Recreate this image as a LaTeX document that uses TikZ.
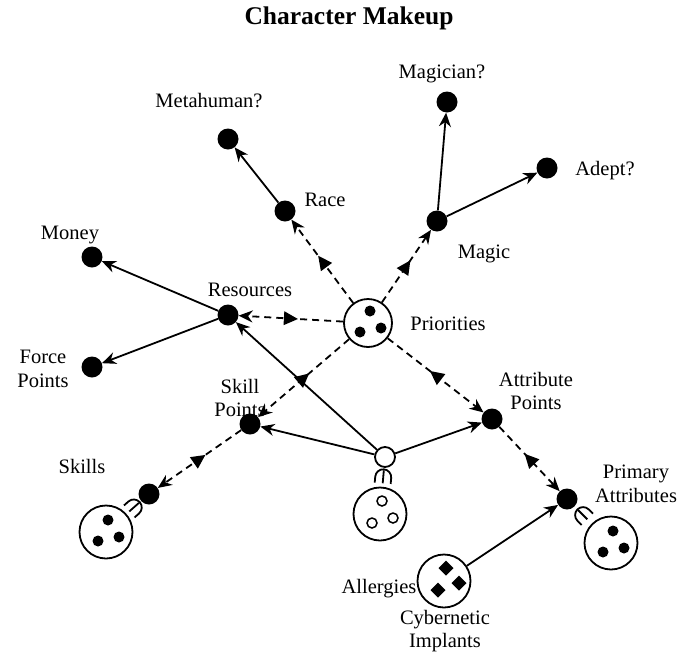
\documentclass[tikz,border=0pt]{standalone}
\usepackage{fontspec}
\setmainfont{Liberation Serif}
\usetikzlibrary{arrows.meta,decorations.markings}
\begin{document}
\begin{tikzpicture}[x=1pt,y=-1pt,
  lbl/.style={font=\fontsize{20.5}{23.5}\selectfont, align=center, inner sep=0pt},
  dot/.style={circle, fill=black, inner sep=0pt, minimum size=21pt},
  hol/.style={circle, draw=black, line width=1.8pt, fill=white, inner sep=0pt, minimum size=20pt},
  big/.style={circle, draw=black, line width=1.8pt, inner sep=0pt, minimum size=53pt},
  conn/.style={line width=1.8pt, -{Stealth[length=14pt,width=12pt]}},
  dconn/.style={conn, dash pattern=on 7pt off 5pt},
  midfwd/.style={postaction={decorate}, decoration={markings, mark=at position 0.5 with {\fill[solid] (7,0) -- (-7,7) -- (-7,-7) -- cycle;}}},
  midback/.style={postaction={decorate}, decoration={markings, mark=at position 0.5 with {\fill[solid] (-7,0) -- (7,7) -- (7,-7) -- cycle;}}},
  forkmark/.style={postaction={decorate}, decoration={markings, mark=at position 0.5 with {\draw[line width=1.8pt] (6,8) -- (0,8) arc[start angle=90, end angle=270, radius=8] -- (6,-8); \draw[line width=1.8pt] (-7,0) -- (6,0);}}}
]
\useasboundingbox (0,0) rectangle (697,654);

\node[font=\fontsize{25.5}{28}\selectfont\bfseries, inner sep=0pt] (title) at (349,18) {Character Makeup};

% nodes
\node[big, minimum size=48pt] (pri) at (368,323) {};
\node[dot] (race) at (285,211) {};
\node[dot] (meta) at (228,139) {};
\node[dot] (magic) at (437,221) {};
\node[dot] (magician) at (447,102) {};
\node[dot] (adept) at (547,168) {};
\node[dot] (res) at (228,315) {};
\node[dot] (money) at (92,257) {};
\node[dot] (force) at (92,367) {};
\node[dot] (skp) at (250,424) {};
\node[dot] (atp) at (492,419) {};
\node[dot] (skd) at (149,494) {};
\node[big] (skc) at (106,532) {};
\node[hol] (alsm) at (385,457) {};
\node[big] (alc) at (380,514) {};
\node[dot] (prd) at (567,499) {};
\node[big] (prc) at (611,543) {};
\node[big] (cyb) at (444,581) {};

% inner marks
\foreach \n in {pri,skc,prc}{
  \fill ([shift={(2,-12)}]\n.center) circle (5.5);
  \fill ([shift={(-8,9)}]\n.center) circle (5.5);
  \fill ([shift={(13,5)}]\n.center) circle (5.5);
}
\draw[line width=1.5pt] ([shift={(2,-13)}]alc.center) circle (5);
\draw[line width=1.5pt] ([shift={(-8,9)}]alc.center) circle (5);
\draw[line width=1.5pt] ([shift={(13,4)}]alc.center) circle (5);
\foreach \dx/\dy in {2/-13, -6/9, 15/2}{
  \fill ([shift={(\dx,\dy)}]cyb.center) +(0,-7.5) -- +(7.5,0) -- +(0,7.5) -- +(-7.5,0) -- cycle;
}

% labels
\node[lbl] at (209,101) {Metahuman?};
\node[lbl] at (442,74) {Magician?};
\node[lbl] at (605,171) {Adept?};
\node[lbl] at (325,200) {Race};
\node[lbl] at (484,254) {Magic};
\node[lbl] at (70,235) {Money};
\node[lbl] at (250,290) {Resources};
\node[lbl] at (448,324) {Priorities};
\node[lbl] at (43,369) {Force\\Points};
\node[lbl] at (240,398) {Skill\\Points};
\node[lbl] at (536,391) {Attribute\\Points};
\node[lbl] at (82,466) {Skills};
\node[lbl] at (636,484) {Primary\\Attributes};
\node[lbl] at (379,589) {Allergies};
\node[lbl] at (445,631) {Cybernetic\\Implants};

% dashed role connectors
\draw[dconn, midfwd] (pri) -- (race);
\draw[dconn, midfwd] (pri) -- (magic);
\draw[dconn, midback] (pri) -- (res);
\draw[dconn, midback] (pri) -- (skp);
\draw[dconn, midback] (pri) -- (atp);
\draw[dconn, midback] (skp) -- (skd);
\draw[dconn, midback] (atp) -- (prd);

% solid connectors
\draw[conn] (race) -- (meta);
\draw[conn] (magic) -- (magician);
\draw[conn] (magic) -- (adept);
\draw[conn] (res) -- (money);
\draw[conn] (res) -- (force);
\draw[conn] (alsm) -- (res);
\draw[conn] (alsm) -- (skp);
\draw[conn] (alsm) -- (atp);
\draw[conn] (cyb) -- (prd);

% forks
\path[forkmark] (alsm) -- (alc);
\path[forkmark] (skd) -- (skc);
\path[forkmark] (prd) -- (prc);
\end{tikzpicture}
\end{document}
